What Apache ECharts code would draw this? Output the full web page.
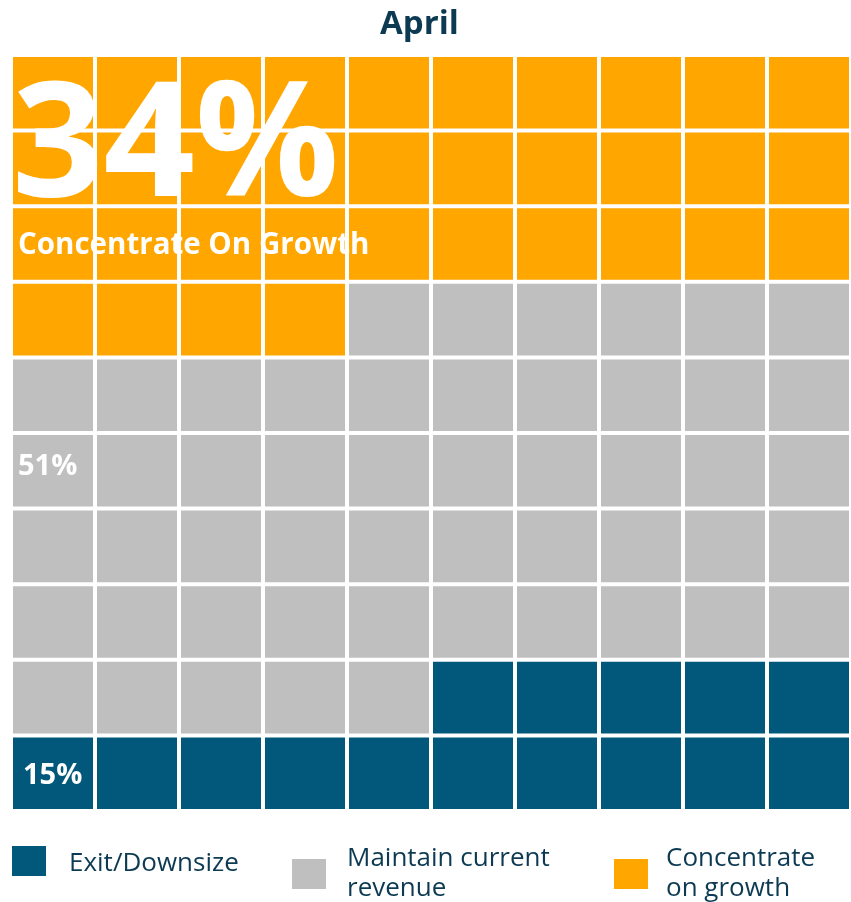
<!DOCTYPE html>
<html>
<head>
<meta charset="utf-8">
<script src="https://cdn.jsdelivr.net/npm/echarts@6/dist/echarts.min.js"></script>
<style>
html,body{margin:0;padding:0;background:#fff;}
#chart{width:851px;height:902px;}
</style>
</head>
<body>
<div id="chart"></div>
<script>
// ---- data ----
const title = 'April';
const categories = ['Concentrate on growth', 'Maintain current revenue', 'Exit/Downsize'];
const legendNames = ['Concentrate\non growth', 'Maintain current\nrevenue', 'Exit/Downsize'];
const values = [34, 51, 15];
const colors = ['#FFA600', '#BFBFBF', '#02587A'];
const overlayLabels = ['34%', 'Concentrate On Growth', '51%', '15%'];
const cols = 10, rows = 10;
const colCats = ['1','2','3','4','5','6','7','8','9','10'];
const rowCats = ['1','2','3','4','5','6','7','8','9','10'];

// waffle fill: row-major from top-left
let idx = 0;
const seriesData = values.map(v => {
  const arr = [];
  for (let k = 0; k < v; k++) {
    arr.push([idx % cols, Math.floor(idx / cols)]);
    idx++;
  }
  return arr;
});

const chart = echarts.init(document.getElementById('chart'));
const FONT = '"Open Sans", sans-serif';
const GAP = 4;

function renderItem(params, api) {
  const c = api.coord([api.value(0), api.value(1)]);
  const s = api.size([1, 1]);
  return {
    type: 'rect',
    shape: { x: c[0] - s[0] / 2 + GAP / 2, y: c[1] - s[1] / 2 + GAP / 2, width: s[0] - GAP, height: s[1] - GAP },
    style: { fill: api.visual('color') }
  };
}

const legendLefts = [614, 292, 12];
const legendPads = [[0, 0, -30, 13], [0, 0, -30, 16], [0, 0, 0, 18]];

function legendText(i) {
  const ts = { fontFamily: FONT, fontSize: 26, color: '#0D3A53', lineHeight: 30, padding: legendPads[i] };
  if (i === 2) ts.rich = { a: { fontFamily: FONT, fontSize: 26, color: '#0D3A53', padding: [6, 0, 0, 0] } };
  return ts;
}

chart.setOption({
  animation: false,
  title: {
    text: title, left: 380, top: 8, padding: 0,
    textStyle: { fontFamily: FONT, fontSize: 33, fontWeight: 'bold', color: '#0D3A53' }
  },
  legend: categories.map((name, i) => ({
    data: [{ name: name, icon: 'rect' }],
    left: legendLefts[i], top: 846, padding: 0,
    itemWidth: 34, itemHeight: 30,
    selectedMode: false,
    formatter: () => i === 2 ? '{a|' + legendNames[i] + '}' : legendNames[i],
    textStyle: legendText(i)
  })),
  grid: { left: 11, right: -2, top: 55, bottom: 91 },
  xAxis: { type: 'category', data: colCats, show: false },
  yAxis: { type: 'category', data: rowCats, inverse: true, show: false },
  series: categories.map((name, i) => ({
    type: 'custom', name: name,
    renderItem: renderItem,
    itemStyle: { color: colors[i] },
    data: seriesData[i]
  })),
  graphic: [
    { type: 'text', z: 100, left: 12, top: 70, style: { text: overlayLabels[0], fill: '#fff', font: 'bold 160px ' + FONT } },
    { type: 'text', z: 100, left: 18, top: 231, style: { text: overlayLabels[1], fill: '#fff', font: 'bold 29.5px ' + FONT } },
    { type: 'text', z: 100, left: 18, top: 452, style: { text: overlayLabels[2], fill: '#fff', font: 'bold 29px ' + FONT } },
    { type: 'text', z: 100, left: 23, top: 761, style: { text: overlayLabels[3], fill: '#fff', font: 'bold 29px ' + FONT } }
  ]
});
</script>
</body>
</html>
